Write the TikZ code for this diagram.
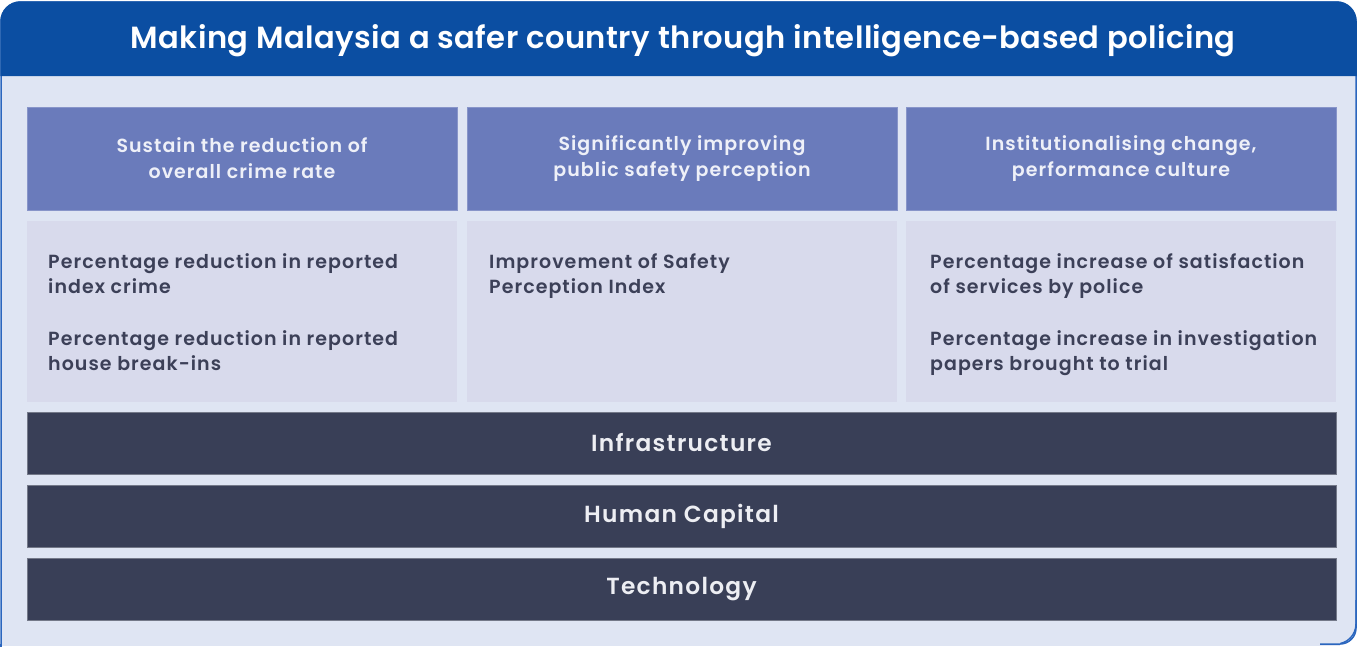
\documentclass[tikz,border=0pt]{standalone}
\usepackage{fontspec}
\setmainfont{Poppins Medium}
\newfontfamily\wideface[LetterSpace=5.5]{Poppins SemiBold}
\newfontfamily\titleface[LetterSpace=1.5]{Poppins SemiBold}
\definecolor{titleblue}{HTML}{0B4EA2}
\definecolor{frameline}{HTML}{2B66BE}
\definecolor{bodybg}{HTML}{DFE5F3}
\definecolor{hdrfill}{HTML}{6A7BBB}
\definecolor{hdrtext}{HTML}{EEF0F8}
\definecolor{cntfill}{HTML}{D8DAEC}
\definecolor{cnttext}{HTML}{3C4058}
\definecolor{barfill}{HTML}{393F57}
\definecolor{bartext}{HTML}{EDEEF3}
\newcommand{\firstline}{\rule{0pt}{14.5pt}}
\begin{document}
\begin{tikzpicture}[x=1pt,y=-1pt,
  hdrbox/.style={fill=hdrfill, draw=hdrfill!80!white, line width=0.6pt, minimum width=430pt, minimum height=103pt, inner sep=0pt, text=hdrtext, align=center, font=\wideface\fontsize{19}{26}\selectfont},
  cntbox/.style={fill=cntfill, minimum width=430pt, minimum height=181pt, inner sep=0pt},
  cnttxt/.style={anchor=north west, inner sep=0pt, text=cnttext, align=left, font=\wideface\fontsize{19}{25}\selectfont},
  barbox/.style={fill=barfill, draw=barfill!70!white, line width=0.8pt, minimum width=1309pt, minimum height=62pt, inner sep=0pt, text=bartext, font=\wideface\fontsize{23.3}{26}\selectfont}]
\useasboundingbox (0,0) rectangle (1362,646);
\fill[white] (0,0) rectangle (1362,646);
% frame
\fill[bodybg, draw=frameline, line width=1.5pt] (1,660) {[rounded corners=20pt] -- (1,2) -- (1356,2) -- (1356,644)} -- (1,644) -- cycle;
\fill[bodybg] (1.8,640) rectangle (1340,646);
\draw[frameline, line width=1.5pt] (1,644) -- (1,660);
\draw[frameline, line width=1.5pt, rounded corners=16pt] (1356,600) -- (1356,644) -- (1320,644);
\fill[titleblue] (0.25,76) {[rounded corners=20pt] -- (0.25,1.25) -- (1356.75,1.25)} -- (1356.75,76) -- cycle;
\node[inner sep=0pt, text=white, font=\titleface\fontsize{30.6}{32}\selectfont] (title) at (683,41) {Making Malaysia a safer country through intelligence-based policing};
% headers
\node[hdrbox] (h1) at (242,158.5) {Sustain the reduction of\\overall crime rate};
\node[hdrbox] (h2) at (682,158.5) {Significantly improving\\public safety perception};
\node[hdrbox] (h3) at (1121,158.5) {Institutionalising change,\\performance culture};
% content
\node[cntbox] (c1) at (242,311.5) {};
\node[cntbox] (c2) at (682,311.5) {};
\node[cntbox] (c3) at (1121,311.5) {};
\node[cnttxt] (t1) at (48,253.5) {\firstline Percentage reduction in reported\\index crime\\[27pt]Percentage reduction in reported\\house break-ins};
\node[cnttxt] (t2) at (489,253.5) {\firstline Improvement of Safety\\Perception Index};
\node[cnttxt] (t3) at (930,253.5) {\firstline Percentage increase of satisfaction\\of services by police\\[27pt]Percentage increase in investigation\\papers brought to trial};
% bars
\node[barbox] (b1) at (681.5,443) {Infrastructure};
\node[barbox] (b2) at (681.5,516) {Human Capital};
\node[barbox] (b3) at (681.5,589) {Technology};
\end{tikzpicture}
\end{document}
